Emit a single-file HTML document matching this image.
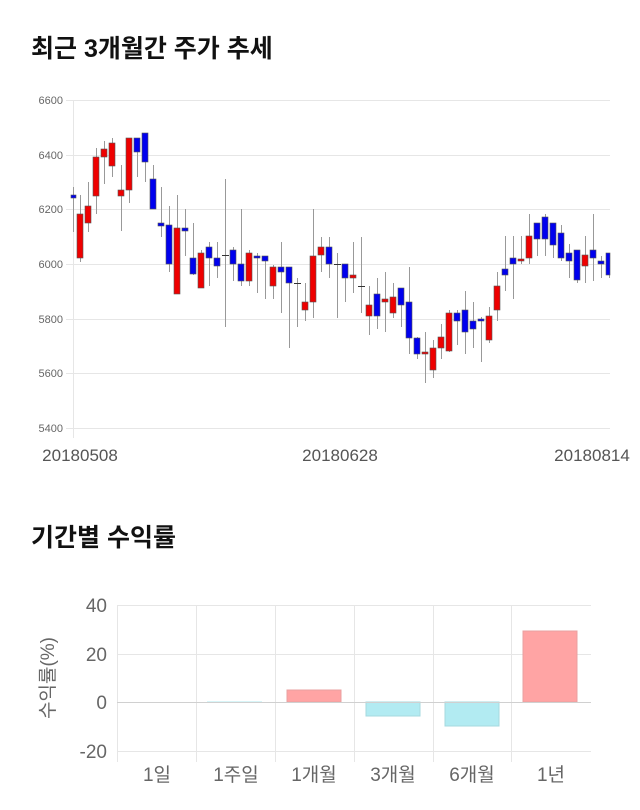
<!DOCTYPE html>
<html><head><meta charset="utf-8"><style>
body{margin:0;background:#fff;width:640px;height:810px;overflow:hidden;font-family:"Liberation Sans","Noto Sans CJK KR",sans-serif}
svg{position:absolute;left:0;top:0}
</style></head><body>
<svg width="640" height="810" viewBox="0 0 640 810" xmlns="http://www.w3.org/2000/svg" font-family="Liberation Sans, Noto Sans CJK KR, sans-serif">
<text x="31" y="57" font-size="25" font-weight="bold" fill="#111">최근 3개월간 주가 추세</text>
<g stroke="#e6e6e6" stroke-width="1">
<line x1="66" y1="100.5" x2="610" y2="100.5"/><line x1="66" y1="155.5" x2="610" y2="155.5"/><line x1="66" y1="209.5" x2="610" y2="209.5"/><line x1="66" y1="264.5" x2="610" y2="264.5"/><line x1="66" y1="319.5" x2="610" y2="319.5"/><line x1="66" y1="373.5" x2="610" y2="373.5"/><line x1="66" y1="428.5" x2="610" y2="428.5"/>
<line x1="73.5" y1="100" x2="73.5" y2="438"/>
</g>
<g font-size="11" fill="#666" text-anchor="end">
<text x="63" y="104">6600</text><text x="63" y="159">6400</text><text x="63" y="213">6200</text><text x="63" y="268">6000</text><text x="63" y="323">5800</text><text x="63" y="377">5600</text><text x="63" y="432">5400</text>
</g>
<g font-size="17" fill="#555" text-anchor="middle">
<text x="80" y="461">20180508</text><text x="340" y="461">20180628</text><text x="592" y="461">20180814</text>
</g>
<g stroke="#999" stroke-width="1">
<line x1="73.5" y1="187" x2="73.5" y2="232"/><line x1="80.5" y1="195" x2="80.5" y2="262"/><line x1="88.5" y1="182" x2="88.5" y2="232"/><line x1="96.5" y1="148" x2="96.5" y2="214"/><line x1="104.5" y1="141" x2="104.5" y2="184"/><line x1="112.5" y1="138" x2="112.5" y2="177"/><line x1="121.5" y1="165" x2="121.5" y2="231"/><line x1="129.5" y1="138" x2="129.5" y2="203"/><line x1="137.5" y1="138" x2="137.5" y2="177"/><line x1="145.5" y1="133" x2="145.5" y2="182"/><line x1="153.5" y1="165" x2="153.5" y2="209"/><line x1="161.5" y1="187" x2="161.5" y2="237"/><line x1="169.5" y1="206" x2="169.5" y2="272"/><line x1="177.5" y1="195" x2="177.5" y2="294"/><line x1="185.5" y1="209" x2="185.5" y2="256"/><line x1="193.5" y1="223" x2="193.5" y2="275"/><line x1="201.5" y1="250" x2="201.5" y2="288"/><line x1="209.5" y1="242" x2="209.5" y2="286"/><line x1="217.5" y1="242" x2="217.5" y2="278"/><line x1="225.5" y1="179" x2="225.5" y2="327"/><line x1="233.5" y1="247" x2="233.5" y2="281"/><line x1="241.5" y1="209" x2="241.5" y2="286"/><line x1="249.5" y1="250" x2="249.5" y2="286"/><line x1="257.5" y1="253" x2="257.5" y2="293"/><line x1="265.5" y1="256" x2="265.5" y2="299"/><line x1="273.5" y1="265" x2="273.5" y2="299"/><line x1="281.5" y1="242" x2="281.5" y2="313"/><line x1="289.5" y1="267" x2="289.5" y2="348"/><line x1="297.5" y1="278" x2="297.5" y2="327"/><line x1="305.5" y1="283" x2="305.5" y2="321"/><line x1="313.5" y1="209" x2="313.5" y2="318"/><line x1="321.5" y1="237" x2="321.5" y2="272"/><line x1="329.5" y1="237" x2="329.5" y2="278"/><line x1="337.5" y1="253" x2="337.5" y2="318"/><line x1="345.5" y1="264" x2="345.5" y2="302"/><line x1="353.5" y1="242" x2="353.5" y2="293"/><line x1="361.5" y1="237" x2="361.5" y2="313"/><line x1="369.5" y1="286" x2="369.5" y2="335"/><line x1="377.5" y1="278" x2="377.5" y2="329"/><line x1="385.5" y1="272" x2="385.5" y2="332"/><line x1="393.5" y1="283" x2="393.5" y2="318"/><line x1="401.5" y1="288" x2="401.5" y2="327"/><line x1="409.5" y1="267" x2="409.5" y2="354"/><line x1="417.5" y1="337" x2="417.5" y2="359"/><line x1="425.5" y1="332" x2="425.5" y2="383"/><line x1="433.5" y1="340" x2="433.5" y2="378"/><line x1="441.5" y1="324" x2="441.5" y2="359"/><line x1="449.5" y1="310" x2="449.5" y2="352"/><line x1="457.5" y1="310" x2="457.5" y2="345"/><line x1="465.5" y1="291" x2="465.5" y2="354"/><line x1="473.5" y1="302" x2="473.5" y2="348"/><line x1="481.5" y1="317" x2="481.5" y2="362"/><line x1="489.5" y1="307" x2="489.5" y2="343"/><line x1="497.5" y1="272" x2="497.5" y2="321"/><line x1="505.5" y1="236" x2="505.5" y2="291"/><line x1="513.5" y1="236" x2="513.5" y2="299"/><line x1="521.5" y1="236" x2="521.5" y2="264"/><line x1="529.5" y1="214" x2="529.5" y2="264"/><line x1="537.5" y1="223" x2="537.5" y2="256"/><line x1="545.5" y1="214" x2="545.5" y2="256"/><line x1="553.5" y1="223" x2="553.5" y2="258"/><line x1="561.5" y1="225" x2="561.5" y2="261"/><line x1="569.5" y1="244" x2="569.5" y2="278"/><line x1="577.5" y1="250" x2="577.5" y2="283"/><line x1="585.5" y1="236" x2="585.5" y2="283"/><line x1="593.5" y1="214" x2="593.5" y2="281"/><line x1="601.5" y1="256" x2="601.5" y2="278"/><line x1="609.5" y1="253" x2="609.5" y2="278"/>
</g>
<g stroke="#555" stroke-width="0.6">
<g fill="#0000ee">
<rect x="71" y="195" width="5" height="3"/><rect x="134" y="138" width="6" height="14"/><rect x="142" y="133" width="6" height="29"/><rect x="150" y="179" width="6" height="30"/><rect x="158" y="223" width="6" height="3"/><rect x="166" y="225" width="6" height="39"/><rect x="182" y="228" width="6" height="3"/><rect x="190" y="258" width="6" height="16"/><rect x="206" y="247" width="6" height="11"/><rect x="214" y="258" width="6" height="8"/><rect x="230" y="250" width="6" height="14"/><rect x="238" y="264" width="6" height="17"/><rect x="254" y="256" width="6" height="2"/><rect x="262" y="256" width="6" height="5"/><rect x="278" y="267" width="6" height="5"/><rect x="286" y="267" width="6" height="16"/><rect x="326" y="247" width="6" height="17"/><rect x="342" y="264" width="6" height="14"/><rect x="374" y="294" width="6" height="22"/><rect x="398" y="288" width="6" height="17"/><rect x="406" y="302" width="6" height="36"/><rect x="414" y="338" width="6" height="16"/><rect x="454" y="313" width="6" height="8"/><rect x="462" y="310" width="6" height="22"/><rect x="470" y="321" width="6" height="8"/><rect x="478" y="319" width="6" height="2"/><rect x="502" y="269" width="6" height="6"/><rect x="510" y="258" width="6" height="6"/><rect x="534" y="223" width="6" height="16"/><rect x="542" y="217" width="6" height="22"/><rect x="550" y="223" width="6" height="22"/><rect x="558" y="233" width="6" height="25"/><rect x="566" y="253" width="6" height="8"/><rect x="574" y="250" width="6" height="30"/><rect x="590" y="250" width="6" height="8"/><rect x="598" y="261" width="6" height="3"/><rect x="606" y="253" width="4" height="22"/>
</g>
<g fill="#ee0000">
<rect x="77" y="214" width="6" height="44"/><rect x="85" y="206" width="6" height="17"/><rect x="93" y="157" width="6" height="39"/><rect x="101" y="149" width="6" height="8"/><rect x="109" y="143" width="6" height="23"/><rect x="118" y="190" width="6" height="6"/><rect x="126" y="138" width="6" height="52"/><rect x="174" y="228" width="6" height="66"/><rect x="198" y="253" width="6" height="35"/><rect x="246" y="253" width="6" height="28"/><rect x="270" y="267" width="6" height="19"/><rect x="302" y="302" width="6" height="8"/><rect x="310" y="256" width="6" height="46"/><rect x="318" y="247" width="6" height="8"/><rect x="350" y="275" width="6" height="3"/><rect x="366" y="305" width="6" height="11"/><rect x="382" y="299" width="6" height="3"/><rect x="390" y="297" width="6" height="16"/><rect x="422" y="352" width="6" height="2"/><rect x="430" y="348" width="6" height="22"/><rect x="438" y="337" width="6" height="11"/><rect x="446" y="313" width="6" height="38"/><rect x="486" y="316" width="6" height="24"/><rect x="494" y="286" width="6" height="24"/><rect x="518" y="259" width="6" height="2"/><rect x="526" y="236" width="6" height="22"/><rect x="582" y="255" width="6" height="11"/>
</g>
<g stroke="#333" stroke-width="1">
<line x1="222" y1="255.5" x2="229" y2="255.5"/><line x1="294" y1="283.5" x2="301" y2="283.5"/><line x1="334" y1="264.5" x2="341" y2="264.5"/><line x1="358" y1="286.5" x2="365" y2="286.5"/>
</g>
</g>

<text x="31" y="546" font-size="25" font-weight="bold" fill="#111">기간별 수익률</text>
<g stroke="#e6e6e6" stroke-width="1">
<line x1="117" y1="605.5" x2="591" y2="605.5"/><line x1="117" y1="654.5" x2="591" y2="654.5"/><line x1="117" y1="751.5" x2="591" y2="751.5"/>
<line x1="117.5" y1="605" x2="117.5" y2="762"/><line x1="196.5" y1="605" x2="196.5" y2="762"/><line x1="275.5" y1="605" x2="275.5" y2="762"/><line x1="354.5" y1="605" x2="354.5" y2="762"/><line x1="433.5" y1="605" x2="433.5" y2="762"/><line x1="511.5" y1="605" x2="511.5" y2="762"/>
</g>
<rect x="287" y="690" width="54" height="12" fill="#ffa4a4" stroke="#e8a0a0"/>
<rect x="366" y="702" width="54" height="14" fill="#b2ebf2" stroke="#a5d8df"/>
<rect x="445" y="702" width="54" height="24" fill="#b2ebf2" stroke="#a5d8df"/>
<rect x="523" y="631" width="54" height="71" fill="#ffa4a4" stroke="#e8a0a0"/>
<rect x="207" y="701.5" width="55" height="1" fill="#b2ebf2"/>
<line x1="117" y1="702.5" x2="591" y2="702.5" stroke="#d0d0d0"/>
<g font-size="19" fill="#666" text-anchor="end">
<text x="107" y="612">40</text><text x="107" y="661">20</text><text x="107" y="709">0</text><text x="107" y="758">-20</text>
</g>
<text transform="translate(54,678) rotate(-90)" font-size="19" fill="#666" text-anchor="middle">수익률(%)</text>
<g font-size="19" fill="#666" text-anchor="middle">
<text x="157" y="781">1일</text><text x="236" y="781">1주일</text><text x="314" y="781">1개월</text><text x="393" y="781">3개월</text><text x="472" y="781">6개월</text><text x="551" y="781">1년</text>
</g>
</svg>
</body></html>
